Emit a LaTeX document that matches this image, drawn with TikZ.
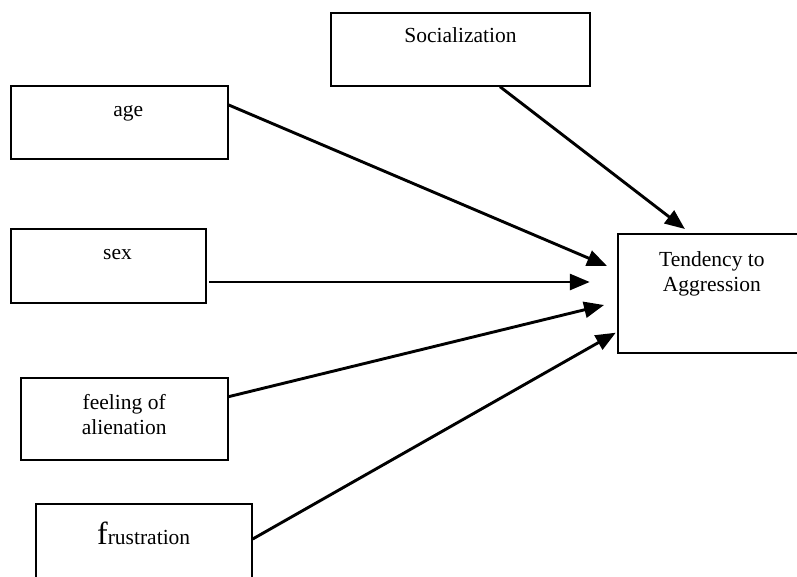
\documentclass[tikz,border=0pt]{standalone}
\usepackage{fontspec}
\setmainfont{Liberation Serif}
\usetikzlibrary{arrows.meta, calc}

\begin{document}
\begin{tikzpicture}[x=1pt, y=-1pt, line width=2.9pt,
    arr/.style={-{Triangle[length=20pt, width=16pt]}},
    box/.style={rectangle, draw, line width=2pt, inner sep=0pt},
    txt/.style={font=\fontsize{21.5}{25}\selectfont, align=center, inner sep=0pt}]

                        \useasboundingbox (0,0) rectangle (797,576);
                        \clip (0,0) rectangle (797,576);

                        % Boxes for the factors on the left
                        \node (soc) [box, minimum width=259pt, minimum height=73pt,
                                label={[txt, anchor=base, yshift=-30.5pt]north:Socialization}] at (460.5,49.2) {};
                        \node (age) [box, minimum width=216.7pt, minimum height=73.3pt,
                                label={[txt, anchor=base, xshift=9pt, yshift=-31.6pt]north:age}] at (119.3,122.3) {};
                        \node (sex) [box, minimum width=195pt, minimum height=73.7pt,
                                label={[txt, anchor=base, xshift=9pt, yshift=-31.4pt]north:sex}] at (108.5,266.2) {};
                        \node (feel) [box, minimum width=207pt, minimum height=82.3pt,
                                label={[txt, anchor=north, yshift=-16.3pt]north:feeling of\\alienation}] at (124.2,418.8) {};
                        \node (frus) [box, minimum width=216pt, minimum height=86pt,
                                label={[txt, anchor=base, yshift=-41pt]north:{{\fontsize{32}{32}\selectfont f}rustration}}] at (143.7,547) {};

                        % Box for the outcome on the right
                        \node (tend) [box, minimum width=188.3pt, minimum height=118.4pt,
                                label={[txt, anchor=north, yshift=-16.7pt]north:Tendency to\\Aggression}] at (711.9,293.5) {};

                        % Arrows into the outcome
                        \draw[arr] ($(soc.south)+(39.5,0)$) -- ($(tend.north)+(-27,-4.3)$);
                        \draw[arr] ($(age.north east)+(0,20.3)$) -- ($(tend.north west)+(-9.7,32.7)$);
                        \draw[arr] ($(sex.east)+(2,15.8)$) -- ($(tend.west)+(-27,-11.5)$);
                        \draw[arr] ($(feel.north east)+(0,20)$) -- ($(tend.west)+(-12.7,11.5)$);
                        \draw[arr] ($(frus.north east)+(0,36)$) -- ($(tend.south west)+(-1,-21)$);
\end{tikzpicture}
\end{document}
